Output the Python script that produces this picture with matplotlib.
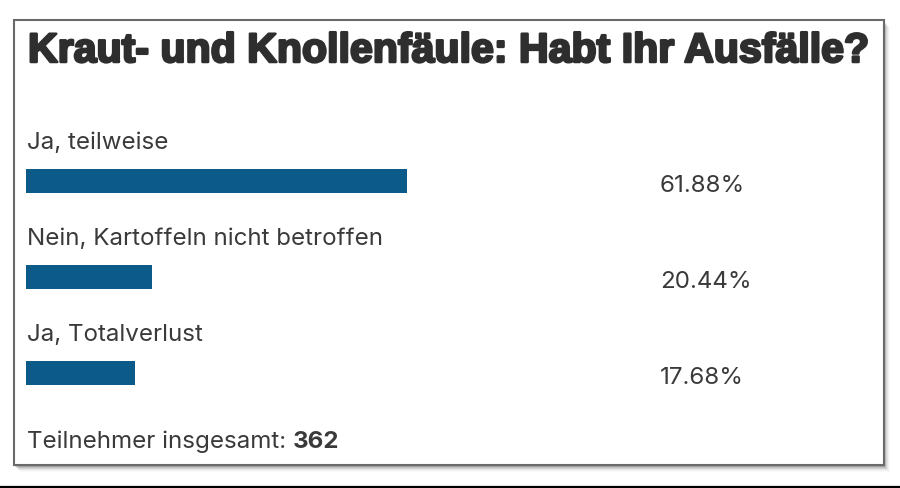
import matplotlib
matplotlib.use("Agg")
import matplotlib.pyplot as plt
import matplotlib.patheffects as pe
from matplotlib.patches import Rectangle
from matplotlib.lines import Line2D

title = "Kraut- und Knollenfäule: Habt Ihr Ausfälle?"
categories = ["Ja, teilweise", "Nein, Kartoffeln nicht betroffen", "Ja, Totalverlust"]
values = [61.88, 20.44, 17.68]
value_labels = ["61.88%", "20.44%", "17.68%"]
footer_label = "Teilnehmer insgesamt: "
total = "362"

W, H = 900, 488
fig = plt.figure(figsize=(W / 100, H / 100), dpi=100)
fig.patch.set_facecolor("white")

def px(x0, y0, x1, y1):
    return [x0 / W, 1 - y1 / H, (x1 - x0) / W, (y1 - y0) / H]

# shadow of the card
for i, a in enumerate([0.14, 0.10, 0.07, 0.05, 0.03, 0.02]):
    d = 1 + i
    fig.patches.append(Rectangle(((14 + d) / W, 1 - (465 + d + 1) / H), 870 / W, 445 / H,
                                 transform=fig.transFigure, facecolor="#000000", alpha=a,
                                 edgecolor="none", zorder=0))
fig.patches.append(Rectangle((14 / W, 1 - 465 / H), 870 / W, 445 / H,
                             transform=fig.transFigure, facecolor="white",
                             edgecolor="#6a6a6a", linewidth=1.5, zorder=1))
fig.lines.append(Line2D([0, 1], [1 - 487 / H, 1 - 487 / H], transform=fig.transFigure,
                        color="black", linewidth=1.6, zorder=1))

renderer = fig.canvas.get_renderer()

def fit_text(x, y, s, width_px, **kw):
    t = fig.text(x / W, 1 - y / H, s, va="baseline", ha="left", **kw)
    fs = kw.get("fontsize", 20)
    for _ in range(4):
        w = t.get_window_extent(renderer).width
        fs = fs * width_px / w
        t.set_fontsize(fs)
    return t

tt = fit_text(28, 62, title, 840, fontsize=27, family="Liberation Sans", weight="bold",
              color="#2e2e2e", zorder=3)
tt.set_path_effects([pe.withStroke(linewidth=1.8, foreground="#2e2e2e")])

ax = fig.add_axes(px(26, 133, 642, 421), zorder=2)
ax.set_facecolor("none")
ypos = list(range(len(categories)))
ax.barh(ypos, values, height=0.25, color="#0b5a8a")
ax.set_xlim(0, 100)
ax.set_ylim(len(categories) - 0.5, -0.5)
ax.axis("off")

probe = fig.text(0, 0, categories[1], family="Inter", fontsize=15)
for _ in range(4):
    w = probe.get_window_extent(renderer).width
    probe.set_fontsize(probe.get_fontsize() * 356 / w)
lab_fs = probe.get_fontsize()
probe.remove()

for y, c, v in zip(ypos, categories, value_labels):
    ax.annotate(c, xy=(0, y), xytext=(1, 32), textcoords="offset pixels",
                va="baseline", ha="left", family="Inter", fontsize=lab_fs, color="#3a3a3a")
    ax.annotate(v, xy=(1, y), xycoords=("axes fraction", "data"), xytext=(18, -11),
                textcoords="offset pixels", va="baseline", ha="left", family="Inter",
                fontsize=lab_fs, color="#3a3a3a")

t1 = fig.text(27 / W, 1 - 448 / H, footer_label, family="Inter", fontsize=lab_fs,
              color="#3a3a3a", va="baseline", ha="left", zorder=3)
w1 = t1.get_window_extent(renderer).width
fig.text((27 + w1) / W, 1 - 448 / H, total, family="Inter", fontsize=lab_fs,
         weight="bold", color="#3a3a3a", va="baseline", ha="left", zorder=3)

fig.savefig("out.png", dpi=100, facecolor="white")
